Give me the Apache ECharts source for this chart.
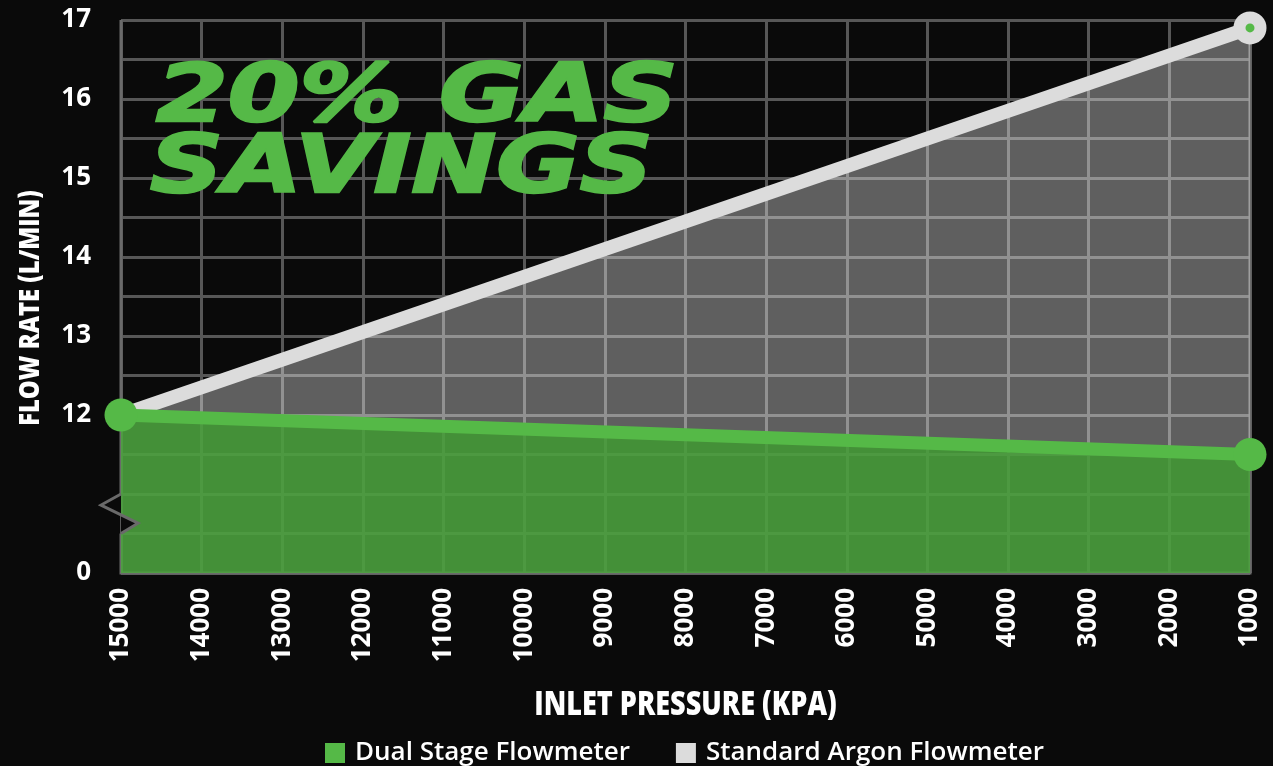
<!DOCTYPE html>
<html>
<head>
<meta charset="utf-8">
<style>
html,body{margin:0;padding:0;background:#0a0a0a;}
#chart{width:1273px;height:766px;}
</style>
<script src="https://cdn.jsdelivr.net/npm/echarts@6/dist/echarts.min.js"></script>
</head>
<body>
<div id="chart"></div>
<script>
// ---- data ----
const pressure = [15000, 1000];                 // inlet pressure (kPa)
const dualStage = [12, 11.5];                   // Dual Stage Flowmeter (L/min)
const standardArgon = [12, 16.9];               // Standard Argon Flowmeter (L/min)
const seriesNames = ['Dual Stage Flowmeter', 'Standard Argon Flowmeter'];
const yTickLabels = {10: '0', 12: '12', 13: '13', 14: '14', 15: '15', 16: '16', 17: '17'};
const titleLines = ['20% GAS', 'SAVINGS'];
const xAxisName = 'INLET PRESSURE (KPA)';
const yAxisName = 'FLOW RATE (L/MIN)';
const axisBreak = [11, 10.86, 10.63, 10.5];     // broken-axis zigzag values

const GREEN = '#55b947';
const LIGHT = '#dcdcdc';
const labelFont = "'Open Sans', 'DejaVu Sans', sans-serif";

const chart = echarts.init(document.getElementById('chart'), null, {renderer: 'canvas'});

const option = {
  backgroundColor: '#0a0a0a',
  animation: false,
  grid: {left: 121, right: 23, top: 20, bottom: 193},
  legend: {
    data: [
      {name: seriesNames[0], itemStyle: {color: GREEN}},
      {name: seriesNames[1], itemStyle: {color: LIGHT}}
    ],
    icon: 'rect',
    itemWidth: 20, itemHeight: 20, itemGap: 46,
    left: 320, top: 735,
    selectedMode: false,
    textStyle: {color: '#fff', fontFamily: labelFont, fontWeight: 600, fontSize: 26, padding: [0, 0, 0, 5]}
  },
  xAxis: {
    type: 'value', inverse: true, min: 1000, max: 15000, interval: 1000,
    axisLine: {show: false}, axisTick: {show: false},
    splitLine: {show: true, lineStyle: {color: '#575757', width: 3}},
    axisLabel: {rotate: 90, margin: 15, color: '#fff', fontFamily: labelFont, fontWeight: 700, fontSize: 26,
                formatter: v => String(v)}
  },
  yAxis: {
    type: 'value', min: 10, max: 17, interval: 0.5,
    axisLine: {show: false}, axisTick: {show: false},
    splitLine: {show: true, lineStyle: {color: '#575757', width: 3}},
    axisLabel: {
      margin: 30, color: '#fff', fontFamily: labelFont, fontWeight: 700, fontSize: 26,
      formatter: v => (yTickLabels[v] !== undefined ? yTickLabels[v] : '')
    }
  },
  series: [
    {
      name: seriesNames[1], type: 'line', z: 2,
      data: pressure.map((p, i) => {
        const last = i === pressure.length - 1;
        return last
          ? {value: [p, standardArgon[i]], symbolSize: 21,
             itemStyle: {color: GREEN, borderColor: LIGHT, borderWidth: 12}}
          : {value: [p, standardArgon[i]], symbolSize: 0};
      }),
      symbol: 'circle', showSymbol: true,
      itemStyle: {color: LIGHT},
      lineStyle: {color: LIGHT, width: 14},
      areaStyle: {color: 'rgba(255,255,255,0.35)', origin: 'start', opacity: 1}
    },
    {
      name: seriesNames[0], type: 'line', z: 3,
      data: pressure.map((p, i) => [p, dualStage[i]]),
      symbol: 'circle', symbolSize: 33, showSymbol: true,
      itemStyle: {color: GREEN},
      lineStyle: {color: GREEN, width: 13},
      areaStyle: {color: 'rgba(62,155,47,0.82)', origin: 'start', opacity: 1}
    }
  ]
};
chart.setOption(option);

// ---- frame, axis break, axis names and headline, positioned from the chart's own scales ----
function px(x, y) { return chart.convertToPixel({gridIndex: 0}, [x, y]); }
const xl = px(15000, 12)[0], xr = px(1000, 12)[0];
const yTop = px(15000, 17)[1], yBot = px(15000, 10)[1];
const yb = axisBreak.map(v => px(15000, v)[1]);
const frameStyle = {stroke: '#6a6a6a', lineWidth: 3, fill: null};
const zig = [[xl, yb[0]], [xl - 20, yb[1]], [xl + 17, yb[2]], [xl, yb[3]]];
const titleStyle = {fill: GREEN, stroke: GREEN, lineWidth: 2.5, fontFamily: "'DejaVu Sans', sans-serif",
                    fontWeight: 'bold', fontStyle: 'italic', fontSize: 80, verticalAlign: 'middle', align: 'left'};

chart.setOption({
  graphic: [
    {type: 'polyline', z: 1, silent: true, shape: {points: [[xl, yTop], [xl, yb[0]]]}, style: frameStyle},
    {type: 'polyline', z: 1, silent: true,
     shape: {points: [[xl, yb[3]], [xl, yBot], [xr, yBot], [xr, yTop]]}, style: frameStyle},
    {type: 'polygon', z: 10, silent: true, shape: {points: zig}, style: {fill: '#0a0a0a', stroke: null}},
    {type: 'polyline', z: 11, silent: true, shape: {points: zig}, style: frameStyle},
    {type: 'text', z: 12, silent: true, x: 156, y: 100, scaleX: 1.29,
     style: Object.assign({text: titleLines[0]}, titleStyle)},
    {type: 'text', z: 12, silent: true, x: 150, y: 171, scaleX: 1.27,
     style: Object.assign({text: titleLines[1]}, titleStyle)},
    {type: 'text', z: 12, silent: true, x: (xl + xr) / 2, y: 706, scaleX: 0.82,
     style: {text: xAxisName, fill: '#fff', fontFamily: labelFont, fontWeight: 800, fontSize: 33,
             align: 'center', verticalAlign: 'middle'}},
    {type: 'text', z: 12, silent: true, x: 31, y: 308, rotation: Math.PI / 2, scaleX: 0.82,
     style: {text: yAxisName, fill: '#fff', fontFamily: labelFont, fontWeight: 800, fontSize: 29,
             align: 'center', verticalAlign: 'middle'}}
  ]
});
</script>
</body>
</html>
